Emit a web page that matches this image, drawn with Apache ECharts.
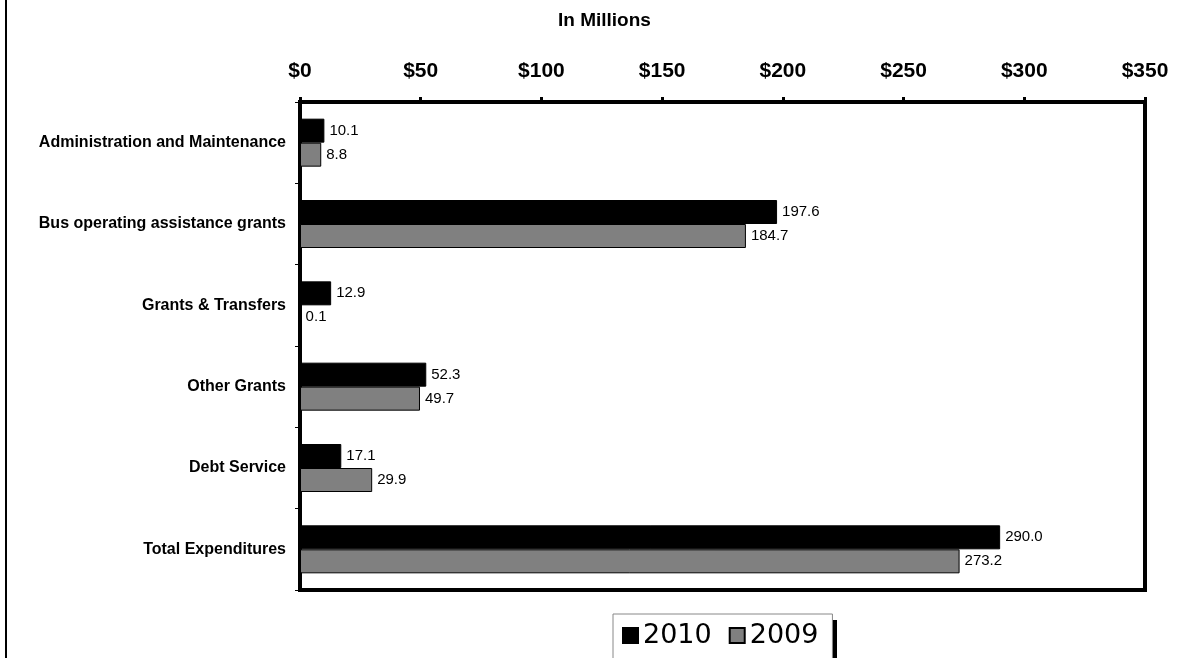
<!DOCTYPE html>
<html>
<head>
<meta charset="utf-8">
<script src="https://cdn.jsdelivr.net/npm/echarts@6/dist/echarts.min.js"></script>
<style>
html,body{margin:0;padding:0;background:#fff;}
#chart{width:1177px;height:658px;}
</style>
</head>
<body>
<div id="chart"></div>
<script>
var categories = ['Administration and Maintenance', 'Bus operating assistance grants', 'Grants & Transfers', 'Other Grants', 'Debt Service', 'Total Expenditures'];
var values2010 = [10.1, 197.6, 12.9, 52.3, 17.1, 290.0];
var values2009 = [8.8, 184.7, 0.1, 49.7, 29.9, 273.2];
var seriesNames = ['2010', '2009'];
var xTicks = {min: 0, max: 350, interval: 50};

var FONT = "'Liberation Sans', Arial, sans-serif";
var chart = echarts.init(document.getElementById('chart'));
var option = {
  backgroundColor: '#fff',
  animation: false,
  title: {
    text: 'In Millions',
    left: 558, top: 11, padding: 0,
    textStyle: {fontFamily: FONT, fontWeight: 'bold', fontSize: 19, color: '#000'}
  },
  graphic: [{
    type: 'rect', z: 0, shape: {x: 5, y: 0, width: 2, height: 658},
    style: {fill: '#000'}
  }, {
    type: 'rect', z: 0, shape: {x: 619, y: 620, width: 218, height: 60},
    style: {fill: '#000'}
  }],
  legend: {
    data: seriesNames,
    left: 613, top: 614, z: 10,
    orient: 'horizontal',
    padding: [8, 14, 16, 9],
    itemGap: 17,
    itemWidth: 15, itemHeight: 15,
    icon: 'rect',
    backgroundColor: '#fff',
    borderColor: '#888', borderWidth: 1, borderRadius: 0,
    textStyle: {fontFamily: "'DejaVu Sans', sans-serif", fontSize: 27, color: '#000'}
  },
  grid: {
    left: 300, right: 32, top: 102, bottom: 68,
    show: true, borderColor: '#000', borderWidth: 4, backgroundColor: 'transparent'
  },
  xAxis: {
    type: 'value', position: 'top',
    min: xTicks.min, max: xTicks.max, interval: xTicks.interval,
    axisLine: {show: true, lineStyle: {color: '#000', width: 4}},
    axisTick: {show: true, inside: false, length: 5, lineStyle: {color: '#000', width: 3}},
    splitLine: {show: false},
    axisLabel: {
      margin: 20, color: '#000', fontFamily: FONT, fontWeight: 'bold', fontSize: 21,
      formatter: function (v) { return '$' + v; }
    }
  },
  yAxis: {
    type: 'category', inverse: true, data: categories,
    axisLine: {show: true, lineStyle: {color: '#000', width: 4}},
    axisTick: {show: true, length: 5, lineStyle: {color: '#000', width: 1}},
    axisLabel: {margin: 14, color: '#000', fontFamily: FONT, fontWeight: 'bold', fontSize: 16}
  },
  series: [{
    name: seriesNames[0], type: 'bar', data: values2010,
    barWidth: 24, barGap: '0%',
    itemStyle: {color: '#000', borderColor: '#000', borderWidth: 1},
    label: {show: true, position: 'right', distance: 5, color: '#000', fontFamily: FONT, fontSize: 15,
      formatter: function (p) { return p.value.toFixed(1); }}
  }, {
    name: seriesNames[1], type: 'bar', data: values2009,
    barWidth: 24, barGap: '0%',
    itemStyle: {color: '#808080', borderColor: '#000', borderWidth: 1},
    label: {show: true, position: 'right', distance: 5, color: '#000', fontFamily: FONT, fontSize: 15,
      formatter: function (p) { return p.value.toFixed(1); }}
  }]
};
chart.setOption(option);
</script>
</body>
</html>
